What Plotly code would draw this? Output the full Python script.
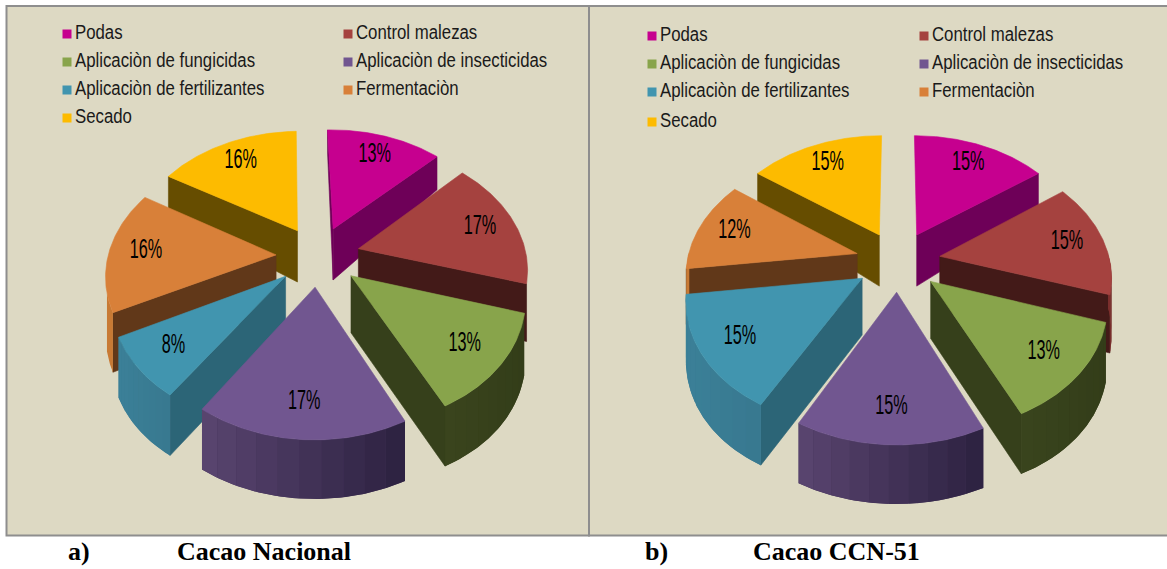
import numpy as np
import plotly.graph_objects as go

categories = ["Podas", "Control malezas", "Aplicaciòn de fungicidas", "Aplicaciòn de insecticidas",
              "Aplicaciòn de fertilizantes", "Fermentaciòn", "Secado"]
nacional = [13, 17, 13, 17, 8, 16, 16]
ccn51 = [15, 15, 13, 15, 15, 12, 15]

top_colors = ["#C6008F", "#A5423F", "#88A44B", "#715690", "#4195AF", "#D88039", "#FDBB00"]
side_colors = ["#6E0058", "#431A18", "#36401B", "#3A2C4C", "#2C6577", "#613819", "#664D00"]
wall_left = ["#8A0064", "#8A3533", "#3A451D", "#5A4570", "#3B8098", "#C87A34", "#B08400"]
wall_right = ["#8A0064", "#6E2A28", "#333D19", "#2C2140", "#38788F", "#C87A34", "#B08400"]

PANEL_BG = "#DDD9C3"
BORDER = "#8E8E8E"
FY, K, EXPLODE = 120.6, 0.1445, 0.25
SANS = "Liberation Sans"

def rgb(h):
    return np.array([int(h[i:i + 2], 16) for i in (1, 3, 5)], float)

def mix(a, b, t):
    c = rgb(a) * (1 - t) + rgb(b) * t
    return "rgb(%d,%d,%d)" % tuple(c.round())

def depth(v):
    return 34 - 25 * (v - 0.91) - 9.05 * (v - 0.91) * (v - 0.23)

def poly(fig, x, y, color, lw=0.6):
    fig.add_trace(go.Scatter(x=list(x) + [x[0]], y=list(y) + [y[0]], mode="lines", fill="toself",
                             fillcolor=color, line=dict(color=color, width=lw),
                             hoverinfo="skip", showlegend=False))

def draw_pie(fig, values, cx, cy, fx, rot, wall_limit):
    def project(u, v):
        u, v = np.asarray(u, float), np.asarray(v, float)
        w = 1 + K * v
        return cx + fx * u / w, cy - FY * v / w

    total = sum(values)
    edges = np.cumsum([0] + list(values)) / total * 360.0 + rot
    mids = (edges[:-1] + edges[1:]) / 2
    order = sorted(range(len(values)), key=lambda i: -np.cos(np.radians(mids[i])))
    labels = []
    for i in order:
        a1, a2, mid = edges[i], edges[i + 1], np.radians(mids[i])
        u0, v0 = EXPLODE * np.sin(mid), EXPLODE * np.cos(mid)
        th = np.radians(np.linspace(a1, a2, 90))
        u, v = u0 + np.sin(th), v0 + np.cos(th)
        # straight cut faces
        for ang, d in ((a1, -90), (a2, 90)):
            if np.cos(np.radians(ang + d)) < 0:
                ue, ve = u0 + np.sin(np.radians(ang)), v0 + np.cos(np.radians(ang))
                xs, ys = project([u0, ue], [v0, ve])
                hs = depth(np.array([v0, ve]))
                poly(fig, [xs[0], xs[1], xs[1], xs[0]], [ys[0], ys[1], ys[1] + hs[1], ys[0] + hs[0]], side_colors[i])
        # curved outer wall, shaded in strips over a solid underlay
        vis = np.cos(th) < wall_limit
        if vis.sum() > 2:
            tv = th[vis]
            uu, vv = u0 + np.sin(tv), v0 + np.cos(tv)
            xx, yy = project(uu, vv)
            hh = depth(vv)
            xr = (xx - xx.min()) / max(xx.max() - xx.min(), 1)
            poly(fig, list(xx) + list(xx[::-1]), list(yy) + list((yy + hh)[::-1]),
                 mix(wall_left[i], wall_right[i], 0.5), 0)
            if wall_left[i] != wall_right[i]:
                for s in np.array_split(np.arange(len(tv)), 10):
                    s2 = np.arange(s[0], min(s[-1] + 2, len(tv)))
                    if len(s2) < 2:
                        continue
                    col = mix(wall_left[i], wall_right[i], float(xr[s2].mean()))
                    poly(fig, list(xx[s2]) + list(xx[s2][::-1]),
                         list(yy[s2]) + list((yy[s2] + hh[s2])[::-1]), col, 0)
        # top face
        xs, ys = project(np.r_[u0, u], np.r_[v0, v])
        poly(fig, xs, ys, top_colors[i])
        lx, ly = project(u0 + 0.78 * np.sin(mid), v0 + 0.78 * np.cos(mid))
        labels.append((float(lx), float(ly), "%d%%" % round(values[i] / total * 100)))
    fig.add_trace(go.Scatter(x=[l[0] for l in labels], y=[l[1] for l in labels], text=[l[2] for l in labels],
                             mode="text", textposition="middle center",
                             textfont=dict(family=SANS, size=28, color="#000000"),
                             hoverinfo="skip", showlegend=False))

def draw_legend(fig, x0, x1, ys):
    slots = [(x0, ys[0]), (x1, ys[0]), (x0, ys[1]), (x1, ys[1]), (x0, ys[2]), (x1, ys[2]), (x0, ys[3])]
    fig.add_trace(go.Scatter(x=[s[0] for s in slots], y=[s[1] for s in slots], mode="markers",
                             marker=dict(symbol="square", size=9, color=top_colors, line=dict(width=0)),
                             hoverinfo="skip", showlegend=False))
    fig.add_trace(go.Scatter(x=[s[0] + 8 for s in slots], y=[s[1] for s in slots], text=categories,
                             mode="text", textposition="middle right",
                             textfont=dict(family=SANS, size=21, color="#1A1A1A"),
                             hoverinfo="skip", showlegend=False))

fig = go.Figure()
draw_pie(fig, nacional, 318, 256, 168, -1.5, -0.3)
draw_pie(fig, ccn51, 898, 261, 170, 0, 0.02)
draw_legend(fig, 67, 348, [34, 62, 90, 118])
draw_legend(fig, 652, 924, [36, 64, 92, 122])

captions = [(68, "a)"), (177, "Cacao Nacional"), (645, "b)"), (753, "Cacao CCN-51")]
fig.add_trace(go.Scatter(x=[c[0] for c in captions], y=[553] * 4, text=[c[1] for c in captions], mode="text",
                         textposition="middle right",
                         textfont=dict(family="Liberation Serif", size=26, color="#000000", weight="bold"),
                         hoverinfo="skip", showlegend=False))

fig.update_layout(
    width=1167, height=569, margin=dict(l=0, r=0, t=0, b=0),
    paper_bgcolor="white", plot_bgcolor="white", showlegend=False,
    xaxis=dict(range=[0, 1167], visible=False, fixedrange=True),
    yaxis=dict(range=[569, 0], visible=False, fixedrange=True),
    shapes=[
        dict(type="rect", x0=6.5, x1=589, y0=6, y1=535.5, layer="below", fillcolor=PANEL_BG,
             line=dict(color=BORDER, width=2)),
        dict(type="rect", x0=589, x1=1170, y0=6, y1=535.5, layer="below", fillcolor=PANEL_BG,
             line=dict(color=BORDER, width=2)),
    ],
)

narrow_text = """
document.body.style.margin='0';document.body.style.overflow='hidden';
function narrowText(){
  document.querySelectorAll('.textpoint text').forEach(function(t){
    if(!t.style.fontFamily.includes('Sans')) return;
    var s = parseFloat(t.style.fontSize) >= 26 ? 0.58 : 0.8;
    var x = parseFloat(t.getAttribute('x'));
    t.setAttribute('transform','translate('+(x*(1-s))+',0) scale('+s+',1)');
  });
}
narrowText(); setTimeout(narrowText, 30);
"""
fig.write_html("out.html", config={"displayModeBar": False}, post_script=narrow_text)
